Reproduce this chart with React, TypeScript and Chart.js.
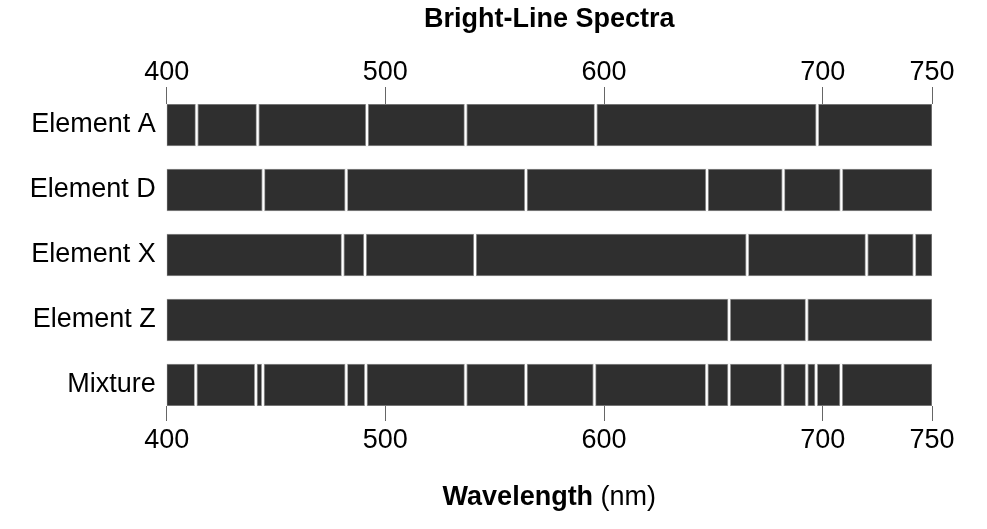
import React, { useEffect, useRef } from 'react';
import { Chart, registerables } from 'chart.js';

Chart.register(...registerables);

const TITLE = 'Bright-Line Spectra';
const AXIS_TITLE_BOLD = 'Wavelength';
const AXIS_TITLE_UNIT = ' (nm)';

const ELEMENTS = ['Element A', 'Element D', 'Element X', 'Element Z', 'Mixture'];

const LINES_A = [413.7, 441.6, 491.6, 536.7, 596.2, 697.5];
const LINES_D = [444.2, 482.1, 564.3, 647.1, 682.0, 708.5];
const LINES_X = [480.5, 490.7, 541.0, 665.5, 720.1, 741.9];
const LINES_Z = [657.2, 692.7];
const LINES_MIX = [413.3, 440.8, 444.0, 482.1, 491.1, 536.7, 564.3, 595.6, 647.0, 657.2, 681.7, 692.7, 697.0, 708.4];

const WAVE_MIN = 400;
const WAVE_MAX = 750;
const WAVE_TICKS = [400, 500, 600, 700, 750];

const FONT = '"Liberation Sans", Arial, Helvetica, sans-serif';

export default function App() {
  const ref = useRef<HTMLCanvasElement>(null);

  useEffect(() => {
    if (!ref.current) return;
    const rows = [LINES_A, LINES_D, LINES_X, LINES_Z, LINES_MIX];
    const linePoints = rows.flatMap((arr, i) => arr.map((nm) => ({ x: nm, y: i })));
    const barData = ELEMENTS.map((_, i) => ({ x: [WAVE_MIN, WAVE_MAX], y: i }));

    const BAR_PX = 42;
    const ROW_HALF = 0.323;

    const textPlugin = {
      id: 'texts',
      afterDraw(chart: any) {
        const { ctx, chartArea } = chart;
        const cx = (chartArea.left + chartArea.right) / 2;
        ctx.save();
        ctx.fillStyle = '#000';
        ctx.textBaseline = 'alphabetic';
        ctx.textAlign = 'center';
        ctx.font = `bold 27px ${FONT}`;
        ctx.fillText(TITLE, cx, 27);
        const wB = ctx.measureText(AXIS_TITLE_BOLD).width;
        ctx.font = `27px ${FONT}`;
        const wN = ctx.measureText(AXIS_TITLE_UNIT).width;
        const x0 = cx - (wB + wN) / 2;
        ctx.textAlign = 'left';
        ctx.font = `bold 27px ${FONT}`;
        ctx.fillText(AXIS_TITLE_BOLD, x0, 505);
        ctx.font = `27px ${FONT}`;
        ctx.fillText(AXIS_TITLE_UNIT, x0 + wB, 505);
        ctx.restore();
      },
    };

    const xTicks = (s: any) => {
      s.ticks = WAVE_TICKS.map((v) => ({ value: v }));
    };

    const chart = new Chart(ref.current, {
      type: 'bar',
      data: {
        datasets: [
          {
            type: 'bar',
            data: barData as any,
            backgroundColor: '#2f2f2f',
            borderColor: '#8c8c8c',
            borderWidth: 1,
            borderSkipped: false,
            barThickness: BAR_PX,
            xAxisID: 'x',
            yAxisID: 'y',
            order: 3,
          } as any,
          {
            type: 'scatter',
            data: linePoints,
            showLine: false,
            pointStyle: 'line',
            pointRotation: 90,
            pointRadius: BAR_PX / 2,
            pointHoverRadius: BAR_PX / 2,
            pointBorderColor: '#9a9a9a',
            pointBorderWidth: 3.6,
            xAxisID: 'x',
            yAxisID: 'y',
            order: 2,
          } as any,
          {
            type: 'scatter',
            data: linePoints,
            showLine: false,
            pointStyle: 'line',
            pointRotation: 90,
            pointRadius: BAR_PX / 2,
            pointHoverRadius: BAR_PX / 2,
            pointBorderColor: '#ffffff',
            pointBorderWidth: 2,
            xAxisID: 'x',
            yAxisID: 'y',
            order: 1,
          } as any,
        ],
      },
      options: {
        indexAxis: 'y',
        animation: false,
        responsive: true,
        maintainAspectRatio: false,
        events: [],
        layout: { padding: { left: 0, right: 55, top: 0, bottom: 0 } },
        font: { family: FONT },
        plugins: {
          legend: { display: false },
          tooltip: { enabled: false },
          title: { display: false },
        },
        scales: {
          x: {
            type: 'linear',
            position: 'bottom',
            min: WAVE_MIN,
            max: WAVE_MAX,
            offset: false,
            afterBuildTicks: xTicks,
            afterFit: (s: any) => {
              s.height = 123;
            },
            grid: { drawOnChartArea: false, drawTicks: true, tickLength: 15, color: '#666' },
            border: { display: false },
            ticks: { font: { size: 27, family: FONT }, color: '#000', padding: 3, maxRotation: 0, autoSkip: false },
          },
          xTop: {
            type: 'linear',
            position: 'top',
            min: WAVE_MIN,
            max: WAVE_MAX,
            offset: false,
            afterBuildTicks: xTicks,
            afterFit: (s: any) => {
              s.height = 104;
            },
            grid: { drawOnChartArea: false, drawTicks: true, tickLength: 17, color: '#666' },
            border: { display: false },
            ticks: { font: { size: 27, family: FONT }, color: '#000', padding: -2, maxRotation: 0, autoSkip: false },
          },
          y: {
            type: 'linear',
            reverse: true,
            offset: false,
            grace: 0,
            min: -ROW_HALF,
            max: ELEMENTS.length - 1 + ROW_HALF,
            afterBuildTicks: (s: any) => {
              s.ticks = ELEMENTS.map((_, i) => ({ value: i }));
            },
            afterFit: (s: any) => {
              s.width = 166.7;
            },
            grid: { display: false, drawTicks: false, offset: false },
            border: { display: false },
            ticks: {
              font: { size: 27, family: FONT },
              color: '#000',
              padding: 11,
              autoSkip: false,
              callback: (v: any) => ELEMENTS[v as number] ?? '',
            },
          },
        },
      } as any,
      plugins: [textPlugin],
    });

    return () => chart.destroy();
  }, []);

  return (
    <div style={{ position: 'absolute', left: 0, top: 0, width: 987, height: 529 }}>
      <canvas ref={ref} />
    </div>
  );
}
